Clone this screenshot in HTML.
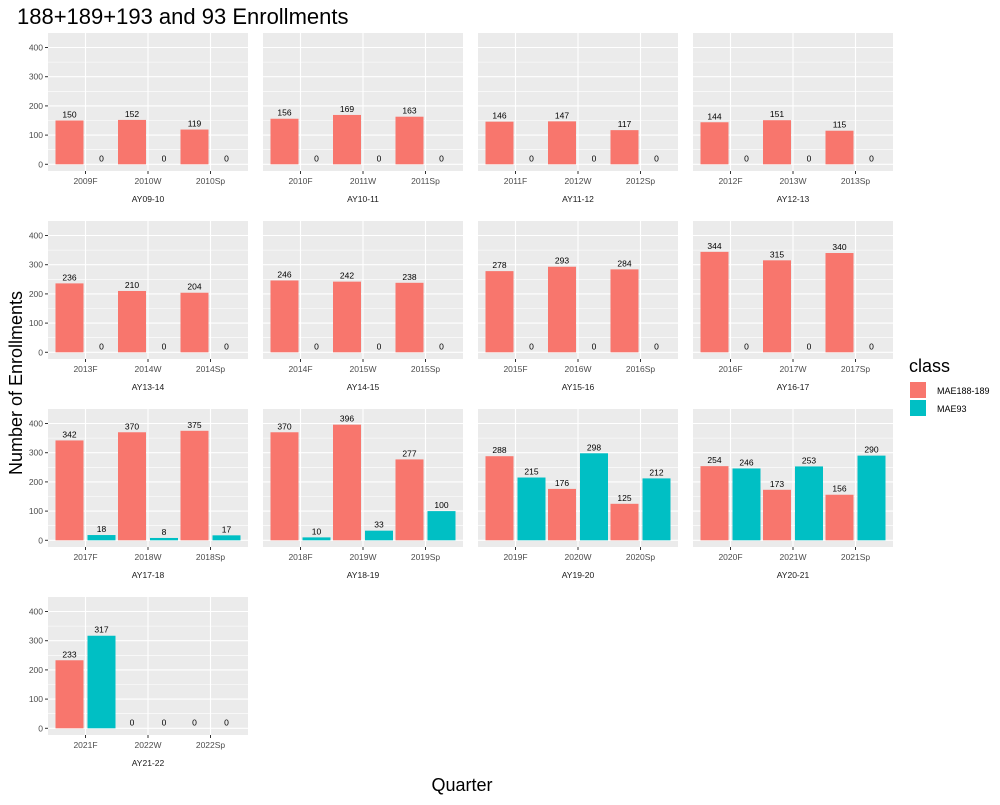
<!DOCTYPE html>
<html><head><meta charset="utf-8"><style>
body{margin:0;background:#fff;}
svg text{font-family:"Liberation Sans",Arial,sans-serif;}
</style></head><body>
<svg id="chart" width="1000" height="800" xmlns="http://www.w3.org/2000/svg">
<rect width="1000" height="800" fill="#fff"/>
<text x="17" y="24" font-size="22" fill="#000">188+189+193 and 93 Enrollments</text>
<text transform="translate(22,383) rotate(-90)" text-anchor="middle" font-size="18" fill="#000">Number of Enrollments</text>
<text x="462" y="791" text-anchor="middle" font-size="18" fill="#000">Quarter</text>
<g>
<text x="909" y="372" font-size="18" fill="#000">class</text>
<rect x="910" y="382" width="16" height="16" fill="#F8766D"/>
<text x="937" y="394" font-size="9" fill="#000">MAE188-189</text>
<rect x="910" y="400" width="16" height="16" fill="#00BFC4"/>
<text x="937" y="412" font-size="9" fill="#000">MAE93</text>
</g>
<g id="panels"></g>
</svg>
<script>
const panelNames=["AY09-10","AY10-11","AY11-12","AY12-13","AY13-14","AY14-15","AY15-16","AY16-17","AY17-18","AY18-19","AY19-20","AY20-21","AY21-22"];
const quarterLabels=[["2009F","2010W","2010Sp"],["2010F","2011W","2011Sp"],["2011F","2012W","2012Sp"],["2012F","2013W","2013Sp"],["2013F","2014W","2014Sp"],["2014F","2015W","2015Sp"],["2015F","2016W","2016Sp"],["2016F","2017W","2017Sp"],["2017F","2018W","2018Sp"],["2018F","2019W","2019Sp"],["2019F","2020W","2020Sp"],["2020F","2021W","2021Sp"],["2021F","2022W","2022Sp"]];
const mae188=[[150,152,119],[156,169,163],[146,147,117],[144,151,115],[236,210,204],[246,242,238],[278,293,284],[344,315,340],[342,370,375],[370,396,277],[288,176,125],[254,173,156],[233,0,0]];
const mae93=[[0,0,0],[0,0,0],[0,0,0],[0,0,0],[0,0,0],[0,0,0],[0,0,0],[0,0,0],[18,8,17],[10,33,100],[215,298,212],[246,253,290],[317,0,0]];
const yTicks=[0,100,200,300,400];
const NS="http://www.w3.org/2000/svg";
const g=document.getElementById('panels');
function mk(tag,attrs,parent){const e=document.createElementNS(NS,tag);for(const k in attrs)e.setAttribute(k,attrs[k]);parent.appendChild(e);return e;}
const PW=200,PH=138;
panelNames.forEach((name,i)=>{
  const col=i%4,row=Math.floor(i/4);
  const x0=48+col*215,y0=33+row*188;
  const yScale=v=>y0+131.3-v*0.292;
  const xScale=c=>x0+(c+0.6)*(PW/3.2);
  const p=mk('g',{},g);
  
  
  mk('rect',{x:x0,y:y0,width:PW,height:PH,fill:'#EBEBEB'},p);
  for(let t=50;t<=450;t+=100){const yy=yScale(t);if(yy>y0)mk('line',{x1:x0,x2:x0+PW,y1:yy,y2:yy,stroke:'#fff','stroke-width':0.55},p);}
  yTicks.forEach(t=>{const yy=yScale(t);
    mk('line',{x1:x0,x2:x0+PW,y1:yy,y2:yy,stroke:'#fff','stroke-width':1.1},p);
    if(col===0){
      mk('line',{x1:x0-3,x2:x0,y1:yy,y2:yy,stroke:'#333','stroke-width':1},p);
      const tl=mk('text',{x:x0-5,y:yy+3,'text-anchor':'end','font-size':8.5,fill:'#4D4D4D'},p);tl.textContent=t;
      
      
    }
  });
  quarterLabels[i].forEach((q,c)=>{const cx=xScale(c);
    mk('line',{x1:cx,x2:cx,y1:y0,y2:y0+PH,stroke:'#fff','stroke-width':1.1},p);
    mk('line',{x1:cx,x2:cx,y1:y0+PH,y2:y0+PH+3,stroke:'#333','stroke-width':1},p);
    const ql=mk('text',{x:cx,y:y0+PH+13,'text-anchor':'middle','font-size':8.5,fill:'#4D4D4D'},p);ql.textContent=q;
    
    
  });
  quarterLabels[i].forEach((q,c)=>{const cx=xScale(c);
    [[mae188[i][c],'#F8766D',-16,'mae188'],[mae93[i][c],'#00BFC4',16,'mae93']].forEach(([v,color,off,s])=>{
      const bx=cx+off;
      if(v>0){const r=mk('rect',{x:bx-14,y:yScale(v),width:28,height:yScale(0)-yScale(v),fill:color},p);
        
        }
      const lt=mk('text',{x:bx,y:yScale(v)-3,'text-anchor':'middle','font-size':8.5,fill:'#000'},p);lt.textContent=v;
      
      
    });
  });
  const st=mk('text',{x:x0+PW/2,y:y0+PH+31,'text-anchor':'middle','font-size':8.5,fill:'#1A1A1A'},p);st.textContent=name;
  
  
});
</script>
</body></html>
